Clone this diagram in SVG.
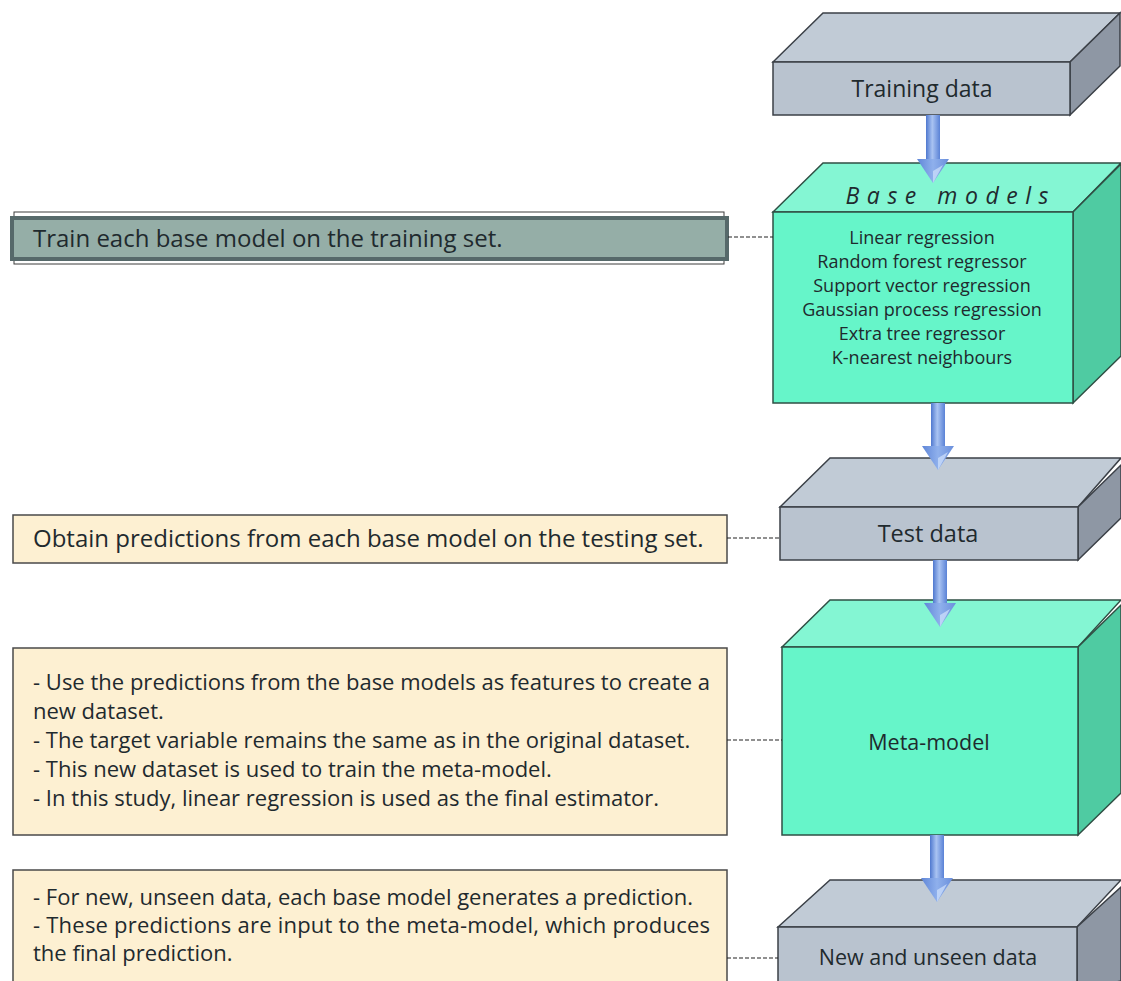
<svg xmlns="http://www.w3.org/2000/svg" width="1121" height="981" viewBox="0 0 1121 981">
<defs>
<linearGradient id="shaft" x1="0" y1="0" x2="1" y2="0">
<stop offset="0" stop-color="#4f78cf"/>
<stop offset="0.45" stop-color="#a9c3f2"/>
<stop offset="1" stop-color="#5a82d6"/>
</linearGradient>
<linearGradient id="head" x1="0" y1="0" x2="1" y2="0">
<stop offset="0" stop-color="#5f86d8"/>
<stop offset="0.5" stop-color="#8fb0ec"/>
<stop offset="1" stop-color="#6a8fdc"/>
</linearGradient>
<g id="arrowHead">
<polygon points="-16,-24 16,-24 0,0" fill="url(#head)"/>
<polygon points="0,-12 10,-18 0,0" fill="#c9dcfa" opacity="0.8"/>
</g>
</defs>
<style>
.txt{font-family:"Open Sans","Noto Sans",Arial,sans-serif;fill:#1f2a2e}
.lt{font-size:22px}
.bt{font-size:24px}
.nt{text-anchor:middle}
.lst{font-size:18px;text-anchor:middle}
.grayF{fill:#b9c3cf;stroke:#3b4047;stroke-width:1.5}
.grayT{fill:#c1cbd6;stroke:#3b4047;stroke-width:1.5}
.grayS{fill:#8e97a4;stroke:#3b4047;stroke-width:1.5}
.tealF{fill:#66f5c9;stroke:#2f4f44;stroke-width:1.5}
.tealT{fill:#84f6d3;stroke:#2f4f44;stroke-width:1.5}
.tealS{fill:#4fcba2;stroke:#2f4f44;stroke-width:1.5}
.note{fill:#fdf0d2;stroke:#4a4a4a;stroke-width:1.5}
.dash{stroke:#222;stroke-width:1.2;stroke-dasharray:4,2;fill:none}
</style>
<rect width="1121" height="981" fill="#ffffff"/>

<g id="training-data">
<polygon class="grayT" points="773,62 823,13 1120,13 1070,62"/>
<polygon class="grayS" points="1070,62 1120,13 1120,66 1070,115"/>
<rect class="grayF" x="773" y="62" width="297" height="53"/>
<text class="txt nt" x="922" y="97" font-size="23">Training data</text>
</g>

<g id="base-models">
<polygon class="tealT" points="773,212 823,163 1121,163 1073,212"/>
<polygon class="tealS" points="1073,212 1121,164 1121,356 1073,403"/>
<rect class="tealF" x="773" y="212" width="300" height="191"/>
<text class="txt" x="947" y="204" font-family="DejaVu Sans" font-style="italic" font-size="23" text-anchor="middle" textLength="203" lengthAdjust="spacing">Base models</text>
<text class="txt lst" x="922" y="244">Linear regression</text>
<text class="txt lst" x="922" y="268">Random forest regressor</text>
<text class="txt lst" x="922" y="292">Support vector regression</text>
<text class="txt lst" x="922" y="316">Gaussian process regression</text>
<text class="txt lst" x="922" y="340">Extra tree regressor</text>
<text class="txt lst" x="922" y="364">K-nearest neighbours</text>
</g>

<g id="test-data">
<polygon class="grayT" points="780,507 830,458 1121,458 1078,507"/>
<polygon class="grayS" points="1078,507 1121,465 1121,518 1078,560"/>
<rect class="grayF" x="780" y="507" width="298" height="53"/>
<text class="txt nt" x="928" y="542" font-size="23.5">Test data</text>
</g>

<g id="meta-model">
<polygon class="tealT" points="782,647 830,600 1121,600 1078,647"/>
<polygon class="tealS" points="1078,647 1121,605 1121,793 1078,835"/>
<rect class="tealF" x="782" y="647" width="296" height="188"/>
<text class="txt nt" x="929" y="750" font-size="21.5">Meta-model</text>
</g>

<g id="new-data">
<polygon class="grayT" points="778,927 830,880 1121,880 1077,927"/>
<polygon class="grayS" points="1077,927 1121,887 1121,981 1077,990"/>
<rect class="grayF" x="778" y="927" width="299" height="70"/>
<text class="txt nt" x="928" y="965" font-size="21.5">New and unseen data</text>
</g>

<g id="note-train">
<rect x="14" y="212" width="710" height="52" fill="#ffffff" stroke="#3d3d3d" stroke-width="1"/>
<rect x="12" y="218" width="715" height="41" fill="#95aea7" stroke="#56696a" stroke-width="4"/>
<text class="txt bt" x="33" y="247">Train each base model on the training set.</text>
</g>

<g id="note-test">
<rect class="note" x="13" y="515" width="714" height="48"/>
<text class="txt bt" x="33" y="547">Obtain predictions from each base model on the testing set.</text>
</g>

<g id="note-meta">
<rect class="note" x="13" y="648" width="714" height="187"/>
<text class="txt lt" x="33" y="690" textLength="677">- Use the predictions from the base models as features to create a</text>
<text class="txt lt" x="33" y="719">new dataset.</text>
<text class="txt lt" x="33" y="748">- The target variable remains the same as in the original dataset.</text>
<text class="txt lt" x="33" y="777">- This new dataset is used to train the meta-model.</text>
<text class="txt lt" x="33" y="806">- In this study, linear regression is used as the final estimator.</text>
</g>

<g id="note-new">
<rect class="note" x="13" y="870" width="714" height="125"/>
<text class="txt lt" x="33" y="905">- For new, unseen data, each base model generates a prediction.</text>
<text class="txt lt" x="33" y="933" textLength="677">- These predictions are input to the meta-model, which produces</text>
<text class="txt lt" x="33" y="961">the final prediction.</text>
</g>

<g id="connectors">
<line class="dash" x1="728" y1="237" x2="773" y2="237"/>
<line class="dash" x1="727" y1="538" x2="780" y2="538"/>
<line class="dash" x1="727" y1="740" x2="782" y2="740"/>
<line class="dash" x1="727" y1="958" x2="778" y2="958"/>
<g>
<rect x="926" y="115" width="14" height="46" fill="url(#shaft)"/>
<use href="#arrowHead" x="933" y="183"/>
</g>
<g>
<rect x="931" y="403" width="14" height="45" fill="url(#shaft)"/>
<use href="#arrowHead" x="938" y="470"/>
</g>
<g>
<rect x="933" y="560" width="14" height="45" fill="url(#shaft)"/>
<use href="#arrowHead" x="940" y="627"/>
</g>
<g>
<rect x="930" y="835" width="14" height="45" fill="url(#shaft)"/>
<use href="#arrowHead" x="937" y="902"/>
</g>
</g>
</svg>
